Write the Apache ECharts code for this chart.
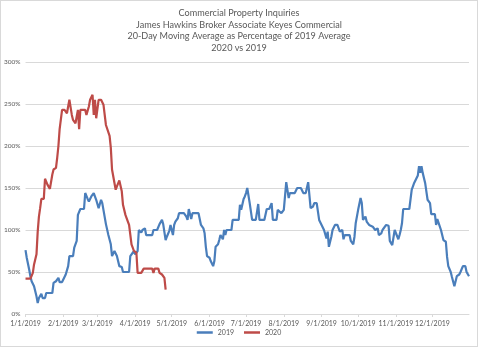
<!DOCTYPE html>
<html>
<head>
<meta charset="utf-8">
<title>Commercial Property Inquiries</title>
<script src="https://cdn.jsdelivr.net/npm/echarts@6/dist/echarts.min.js"></script>
<style>
  html, body { margin: 0; padding: 0; background: #ffffff; }
  #chart { width: 478px; height: 347px; box-sizing: border-box; border: 1px solid #d9d9d9; }
</style>
</head>
<body>
<div id="chart"></div>
<script>
// Title lines
const titleLines = [
  'Commercial Property Inquiries',
  'James Hawkins Broker Associate Keyes Commercial',
  '20-Day Moving Average as Percentage of 2019 Average',
  '2020 vs 2019'
];

// Series names
const seriesNames = ['2019', '2020'];

// Y axis ticks (percent)
const yTicks = [0, 50, 100, 150, 200, 250, 300];

// 2019: day of year (0 = Jan 1) and percentage value
const days2019 = [0, 1, 3, 4, 5, 7, 8, 9, 10, 11, 13, 14, 16, 17, 22, 23, 25, 27, 28, 30,
  33, 35, 36, 39, 40, 42, 43, 45, 48, 49, 51, 52, 54, 56, 58, 60, 62, 63, 64, 66,
  68, 70, 71, 73, 74, 75, 77, 79, 80, 85, 86, 87, 89, 90, 92, 93, 95, 96, 98, 99,
  104, 105, 108, 110, 112, 113, 115, 116, 118, 119, 121, 122, 123, 125, 126, 130, 132, 133, 134, 136,
  137, 142, 144, 146, 147, 148, 149, 151, 152, 154, 155, 156, 158, 159, 160, 162, 163, 164, 165, 169,
  170, 175, 176, 177, 179, 180, 181, 182, 184, 185, 186, 189, 191, 192, 196, 198, 200, 202, 203, 206,
  207, 210, 212, 214, 216, 217, 221, 223, 226, 228, 230, 232, 234, 236, 237, 239, 241, 242, 243, 245,
  247, 248, 249, 251, 252, 254, 256, 258, 260, 261, 262, 266, 267, 269, 270, 271, 273, 275, 276, 277,
  279, 280, 282, 285, 287, 289, 290, 292, 293, 296, 298, 299, 300, 301, 303, 304, 306, 307, 308, 309,
  310, 315, 317, 318, 319, 321, 322, 323, 324, 325, 326, 328, 329, 330, 332, 333, 336, 337, 338, 339,
  341, 343, 345, 346, 347, 349, 350, 351, 352, 354, 356, 357, 359, 361, 362, 363, 364];
const values2019 = [76, 67, 53, 45, 39, 33, 32, 21, 13, 19, 24, 19, 19, 25, 25, 37, 39, 43, 38, 38,
  47, 57, 69, 69, 79, 87, 118, 125, 125, 144, 137, 134, 140, 144, 136, 126, 136, 132, 130, 107,
  94, 83, 69, 75, 74, 69, 57, 56, 50, 50, 69, 70, 75, 71, 75, 100, 97, 100, 102, 94,
  94, 100, 100, 107, 112, 107, 88, 92, 99, 106, 94, 106, 110, 114, 120, 120, 116, 112, 125, 113,
  120, 120, 106, 102, 96, 80, 69, 67, 63, 57, 63, 80, 83, 88, 94, 89, 100, 94, 100, 100,
  112, 112, 130, 124, 137, 140, 144, 150, 132, 131, 112, 112, 131, 112, 112, 125, 125, 132, 112, 112,
  124, 120, 124, 157, 138, 144, 144, 150, 150, 144, 144, 157, 126, 128, 132, 132, 112, 113, 106, 100,
  90, 98, 80, 92, 100, 106, 106, 98, 100, 89, 94, 94, 87, 83, 92, 108, 124, 138, 132, 112,
  116, 110, 106, 104, 100, 102, 94, 96, 100, 106, 105, 87, 85, 82, 100, 98, 89, 94, 100, 108,
  125, 125, 148, 152, 156, 162, 165, 176, 168, 176, 168, 156, 146, 136, 132, 119, 119, 106, 113, 112,
  100, 88, 86, 68, 57, 50, 44, 45, 33, 45, 47, 50, 57, 57, 50, 50, 45];

// 2020: day of year (0 = Jan 1) and percentage value
const days2020 = [0, 4, 6, 7, 9, 10, 11, 12, 13, 15, 16, 18, 20, 22, 23, 25, 26, 27, 28, 29,
  30, 32, 34, 36, 38, 39, 41, 43, 44, 45, 49, 50, 52, 53, 55, 56, 57, 58, 60, 62,
  64, 65, 66, 69, 70, 71, 72, 74, 75, 77, 79, 80, 82, 84, 85, 86, 87, 89, 91, 92,
  95, 97, 104, 105, 106, 109, 110, 112, 114, 115];
const values2020 = [42, 42, 49, 59, 71, 98, 116, 126, 137, 137, 161, 154, 149, 166, 172, 174, 186, 200, 220, 220,
  243, 243, 239, 255, 237, 231, 227, 243, 220, 243, 243, 237, 247, 255, 261, 237, 255, 233, 255, 255,
  249, 249, 225, 212, 198, 172, 172, 148, 152, 159, 146, 130, 118, 110, 106, 106, 83, 75, 73, 49,
  49, 54, 54, 49, 54, 54, 49, 47, 43, 29];

// Category axis: every day of 2019 as M/D/YYYY
const dateLabels = [];
for (let d = new Date(2019, 0, 1); d.getFullYear() === 2019; d.setDate(d.getDate() + 1)) {
  dateLabels.push((d.getMonth() + 1) + '/' + d.getDate() + '/' + d.getFullYear());
}

function toSeries(days, values) {
  const out = new Array(dateLabels.length).fill(null);
  days.forEach((day, i) => { out[day] = values[i]; });
  return out;
}

const isMonthStart = (index, value) => /^\d+\/1\/2019$/.test(value);

const textColor = '#595959';
const gridColor = '#d9d9d9';
const fontFamily = 'Lato, "Open Sans", sans-serif';

const chart = echarts.init(document.getElementById('chart'), null, { renderer: 'canvas' });
chart.setOption({
  animation: false,
  backgroundColor: '#ffffff',
  title: {
    text: titleLines.join('\n'),
    left: 'center',
    top: 1,
    textStyle: {
      color: textColor,
      fontFamily: fontFamily,
      fontWeight: 'normal',
      fontSize: 9.1,
      lineHeight: 11.8
    }
  },
  legend: {
    data: seriesNames,
    bottom: 5,
    left: 'center',
    icon: 'rect',
    itemWidth: 16,
    itemHeight: 2.5,
    itemGap: 10,
    textStyle: { color: textColor, fontFamily: fontFamily, fontSize: 7 }
  },
  grid: { left: 24, right: 8, top: 61, bottom: 32, containLabel: false },
  xAxis: {
    type: 'category',
    data: dateLabels,
    boundaryGap: false,
    axisLine: { lineStyle: { color: gridColor, width: 1 } },
    axisTick: { show: true, interval: isMonthStart, length: 3, lineStyle: { color: gridColor } },
    axisLabel: {
      interval: isMonthStart,
      color: textColor,
      fontFamily: fontFamily,
      fontSize: 7,
      margin: 6
    },
    splitLine: { show: false }
  },
  yAxis: {
    type: 'value',
    min: yTicks[0],
    max: yTicks[yTicks.length - 1],
    interval: 50,
    axisLine: { show: false },
    axisTick: { show: false },
    axisLabel: {
      formatter: '{value}%',
      color: textColor,
      fontFamily: fontFamily,
      fontSize: 6.5,
      margin: 5
    },
    splitLine: { lineStyle: { color: gridColor, width: 1 } }
  },
  series: [
    {
      name: seriesNames[0],
      type: 'line',
      data: toSeries(days2019, values2019),
      connectNulls: true,
      showSymbol: false,
      symbol: 'none',
      color: '#4A7EBB',
      lineStyle: { color: '#4A7EBB', width: 2.2 },
      z: 2
    },
    {
      name: seriesNames[1],
      type: 'line',
      data: toSeries(days2020, values2020),
      connectNulls: true,
      showSymbol: false,
      symbol: 'none',
      color: '#BE4B48',
      lineStyle: { color: '#BE4B48', width: 2.2 },
      z: 3
    }
  ]
});
</script>
</body>
</html>
